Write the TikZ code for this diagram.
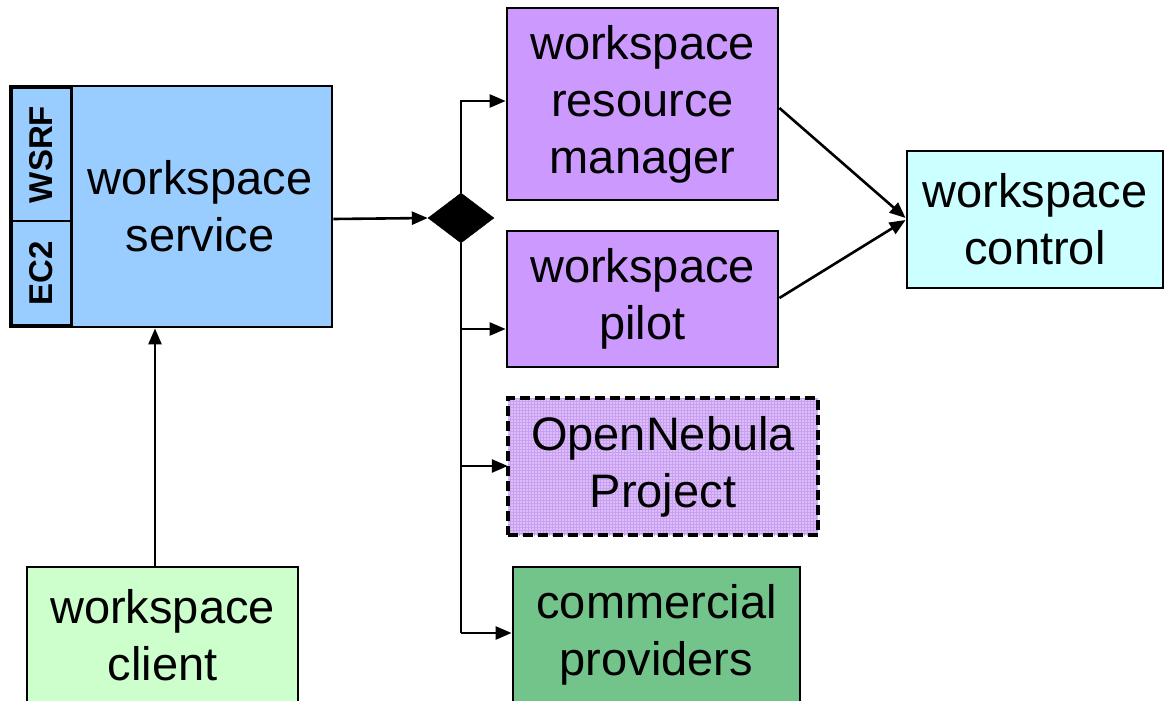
\documentclass[tikz,border=0pt]{standalone}
\usepackage{fontspec}
\setmainfont{Liberation Sans}
\usetikzlibrary{shapes.geometric,arrows.meta,patterns}
\definecolor{svcblue}{RGB}{153,204,255}
\definecolor{purp}{RGB}{204,153,255}
\definecolor{onpurp}{RGB}{222,190,250}
\definecolor{ongrid}{RGB}{200,160,240}
\definecolor{cligreen}{RGB}{204,255,204}
\definecolor{comgreen}{RGB}{115,196,138}
\definecolor{ctlcyan}{RGB}{204,255,255}
\tikzset{
  box/.style={draw=black, line width=2.8pt, rectangle, inner sep=0pt, align=center,
    font=\fontsize{47}{57}\selectfont},
  dbox/.style={rectangle, inner sep=0pt, align=center, font=\fontsize{47}{57}\selectfont,
    fill=onpurp, postaction={pattern=grid, pattern color=ongrid},
    postaction={draw=black, line width=3.4pt, dash pattern=on 10pt off 5pt}},
  tab/.style={draw=black, line width=2.5pt, fill=svcblue, rectangle, inner sep=0pt,
    font=\bfseries\fontsize{33}{33}\selectfont},
  arr/.style={line width=2.6pt, -{Triangle[length=16pt,width=13pt]}},
  ln/.style={line width=2.6pt},
}
\begin{document}
\begin{tikzpicture}[x=1pt,y=-1pt]
\clip (0,0) rectangle (1165,701);
\fill[white] (0,0) rectangle (1165,701);
% workspace service
\node[box, fill=svcblue, minimum width=322pt, minimum height=241pt] (svc) at (171,206.5) {};
\node[tab, minimum width=60pt, minimum height=134pt] (wsrf) at (41.5,154.5) {\rotatebox{90}{WSRF}};
\node[tab, minimum width=60pt, minimum height=104pt] (ec2) at (41.5,273) {\rotatebox{90}{EC2}};
\node[align=center, font=\fontsize{47}{57}\selectfont, inner sep=0pt] (svclabel) at (200,206) {workspace\\service};
% diamond
\node[diamond, fill=black, draw=black, inner sep=0pt, minimum width=66pt, minimum height=50pt, aspect=1.32] (dia) at (461,218) {};
% right boxes
\node[box, fill=purp, minimum width=271pt, minimum height=192pt] (rm) at (642.5,104) {workspace\\resource\\manager};
\node[box, fill=purp, minimum width=271pt, minimum height=136pt] (pilot) at (642.5,299) {workspace\\pilot};
\node[dbox, minimum width=310pt, minimum height=137pt] (on) at (663,466.5) {OpenNebula\\Project};
\node[box, fill=comgreen, minimum width=287pt, minimum height=136pt] (com) at (656.5,635) {commercial\\providers};
\node[box, fill=cligreen, minimum width=271pt, minimum height=136pt] (cli) at (162.5,635) {workspace\\client};
\node[box, fill=ctlcyan, minimum width=256pt, minimum height=137pt] (ctl) at (1035,219.5) {workspace\\control};
% connectors
\draw[arr] (cli.north -| 155,0) -- (svc.south -| 155,0);
\draw[arr] (svc.east |- 0,219) -- (dia.west);
\draw[arr] (dia.north) |- (rm.west |- 0,101);
\draw[ln] (dia.south) -- (461,633);
\draw[arr] (461,329) -- (pilot.west |- 0,329);
\draw[arr] (461,466) -- (on.west |- 0,466);
\draw[arr] (461,633) -- (com.west |- 0,633);
\draw[arr] (rm.east |- 0,108) -- (ctl.west |- 0,218);
\draw[arr] (pilot.east |- 0,298) -- (ctl.west |- 0,220);
\end{tikzpicture}
\end{document}
